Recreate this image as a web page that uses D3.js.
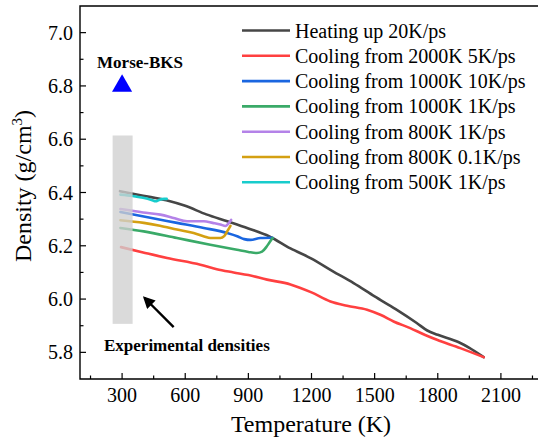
<!DOCTYPE html>
<html>
<head>
    <title>Density vs temperature</title>
    <style>
        body { margin: 0; background: #ffffff; }
        #chart { width: 538px; height: 440px; }
        text { font-family: "Liberation Serif", "Times New Roman", serif; fill: #000; }
    </style>
    <script src="https://d3js.org/d3.v7.min.js"></script>
</head>
<body>
    <div id="chart"></div>

    <script>
        // series names and colours, same order as the legend
        var seriesNames = [
            "Heating up 20K/ps",
            "Cooling from 2000K 5K/ps",
            "Cooling from 1000K 10K/ps",
            "Cooling from 1000K 1K/ps",
            "Cooling from 800K 1K/ps",
            "Cooling from 800K 0.1K/ps",
            "Cooling from 500K 1K/ps"
        ];
        var seriesColors = ["#464646", "#ff4040", "#1a66e0", "#3aaa68", "#b482e8", "#d4a012", "#18cccc"];

        // [temperature K, density g/cm3]
        var heating = [[290,6.405],[400,6.388],[510,6.371],[600,6.35],[700,6.318],[800,6.292],[900,6.265],[1000,6.235],
            [1100,6.19],[1200,6.152],[1300,6.105],[1400,6.06],[1500,6.01],[1600,5.962],[1700,5.91],[1750,5.882],
            [1800,5.866],[1900,5.838],[1950,5.817],[2018,5.782]];
        var cool2000 = [[295,6.195],[400,6.175],[514,6.154],[672,6.129],[750,6.112],[830,6.10],[900,6.09],[989,6.073],
            [1100,6.055],[1200,6.025],[1290,5.991],[1369,5.975],[1464,5.96],[1530,5.94],[1590,5.916],[1669,5.891],
            [1740,5.865],[1796,5.847],[1907,5.816],[1960,5.80],[2018,5.782]];
        var cool1000fast = [[292,6.327],[434,6.305],[561,6.286],[688,6.267],[799,6.248],[850,6.235],[880,6.225],
            [910,6.222],[957,6.229],[1015,6.23]];
        var cool1000slow = [[292,6.267],[403,6.254],[561,6.229],[719,6.204],[846,6.185],[900,6.177],[941,6.173],
            [965,6.178],[985,6.195],[1000,6.212],[1015,6.229]];
        var cool800fast = [[292,6.338],[400,6.325],[482,6.317],[550,6.303],[609,6.292],[688,6.292],[730,6.286],
            [767,6.28],[791,6.274],[805,6.283],[818,6.297]];
        var cool800slow = [[292,6.296],[403,6.286],[480,6.275],[561,6.261],[640,6.248],[690,6.235],[719,6.229],
            [767,6.229],[785,6.236],[800,6.255],[815,6.275]];
        var cool500 = [[292,6.392],[350,6.387],[400,6.38],[440,6.372],[460,6.367],[475,6.372],[500,6.376],[512,6.376]];

        var allSeries = [heating, cool2000, cool1000fast, cool1000slow, cool800fast, cool800slow, cool500];

        var xMajorTicks = [300, 600, 900, 1200, 1500, 1800, 2100];
        var xMinorTicks = [150, 450, 750, 1050, 1350, 1650, 1950, 2250];
        var yMajorTicks = [5.8, 6.0, 6.2, 6.4, 6.6, 6.8, 7.0];
        var yMinorTicks = [5.9, 6.1, 6.3, 6.5, 6.7, 6.9];

        // Morse-BKS point and experimental density band
        var morsePoint = [300, 6.8];
        var expBand = {x0: 255, x1: 350, y0: 5.907, y1: 6.614};
        var arrowFrom = [545, 5.895];
        var arrowTo = [407, 6.004];

        var width = 538, height = 440;
        var plotLeft = 80, plotTop = 6, plotBottom = 379;

        var x = d3.scaleLinear().domain([100, 2300]).range([plotLeft, 543]);
        var y = d3.scaleLinear().domain([5.7, 7.1]).range([plotBottom, plotTop]);

        var svg = d3.select("#chart").append("svg")
            .attr("width", width)
            .attr("height", height);

        svg.append("defs").append("marker")
            .attr("id", "head")
            .attr("viewBox", "0 0 10 10")
            .attr("refX", 8)
            .attr("refY", 5)
            .attr("markerWidth", 5)
            .attr("markerHeight", 5)
            .attr("markerUnits", "strokeWidth")
            .attr("orient", "auto")
            .append("path")
            .attr("d", "M0,0 L10,5 L0,10 z")
            .attr("fill", "#000");

        var line = d3.line()
            .x(function(d) { return x(d[0]); })
            .y(function(d) { return y(d[1]); })
            .curve(d3.curveMonotoneX);

        svg.selectAll(".series")
            .data(allSeries)
            .enter().append("path")
            .attr("class", "series")
            .attr("d", line)
            .attr("fill", "none")
            .attr("stroke", function(d, i) { return seriesColors[i]; })
            .attr("stroke-width", 2.6)
            .attr("stroke-linejoin", "round")
            .attr("stroke-linecap", "round");

        // grey band sits on top of the curve starts
        svg.append("rect")
            .attr("x", x(expBand.x0))
            .attr("width", x(expBand.x1) - x(expBand.x0))
            .attr("y", y(expBand.y1))
            .attr("height", y(expBand.y0) - y(expBand.y1))
            .attr("fill", "#cfcfcf")
            .attr("opacity", 0.78);

        svg.append("path")
            .attr("d", d3.symbol().type(d3.symbolTriangle).size(175)())
            .attr("transform", "translate(" + x(morsePoint[0]) + "," + y(morsePoint[1]) + ")")
            .attr("fill", "#0000ff");

        svg.append("text")
            .attr("x", x(morsePoint[0]) - 25)
            .attr("y", y(morsePoint[1]) - 18)
            .style("font-size", "17px")
            .style("font-weight", "bold")
            .text("Morse-BKS");

        svg.append("line")
            .attr("x1", x(arrowFrom[0]))
            .attr("y1", y(arrowFrom[1]))
            .attr("x2", x(arrowTo[0]))
            .attr("y2", y(arrowTo[1]))
            .attr("stroke", "#000")
            .attr("stroke-width", 2.4)
            .attr("marker-end", "url(#head)");

        svg.append("text")
            .attr("x", 104)
            .attr("y", 351)
            .style("font-size", "17px")
            .style("font-weight", "bold")
            .text("Experimental densities");

        // frame: left, bottom, top (right edge falls outside the window)
        svg.append("path")
            .attr("d", "M" + width + "," + plotTop + "H" + plotLeft + "V" + plotBottom + "H" + width)
            .attr("fill", "none")
            .attr("stroke", "#000")
            .attr("stroke-width", 1.4);

        svg.selectAll(".xmaj")
            .data(xMajorTicks)
            .enter().append("line")
            .attr("x1", function(d) { return x(d); })
            .attr("x2", function(d) { return x(d); })
            .attr("y1", plotBottom)
            .attr("y2", plotBottom - 6)
            .attr("stroke", "#000")
            .attr("stroke-width", 1.2);

        svg.selectAll(".xmin")
            .data(xMinorTicks)
            .enter().append("line")
            .attr("x1", function(d) { return x(d); })
            .attr("x2", function(d) { return x(d); })
            .attr("y1", plotBottom)
            .attr("y2", plotBottom - 3.5)
            .attr("stroke", "#000")
            .attr("stroke-width", 1.2);

        svg.selectAll(".ymaj")
            .data(yMajorTicks)
            .enter().append("line")
            .attr("x1", plotLeft)
            .attr("x2", plotLeft + 6)
            .attr("y1", function(d) { return y(d); })
            .attr("y2", function(d) { return y(d); })
            .attr("stroke", "#000")
            .attr("stroke-width", 1.2);

        svg.selectAll(".ymin")
            .data(yMinorTicks)
            .enter().append("line")
            .attr("x1", plotLeft)
            .attr("x2", plotLeft + 3.5)
            .attr("y1", function(d) { return y(d); })
            .attr("y2", function(d) { return y(d); })
            .attr("stroke", "#000")
            .attr("stroke-width", 1.2);

        svg.selectAll(".xlab")
            .data(xMajorTicks)
            .enter().append("text")
            .attr("x", function(d) { return x(d); })
            .attr("y", plotBottom + 23)
            .attr("text-anchor", "middle")
            .style("font-size", "20px")
            .text(function(d) { return d; });

        svg.selectAll(".ylab")
            .data(yMajorTicks)
            .enter().append("text")
            .attr("x", plotLeft - 7)
            .attr("y", function(d) { return y(d) + 7; })
            .attr("text-anchor", "end")
            .style("font-size", "20px")
            .text(function(d) { return d.toFixed(1); });

        svg.append("text")
            .attr("x", 311)
            .attr("y", 432)
            .attr("text-anchor", "middle")
            .style("font-size", "24px")
            .text("Temperature (K)");

        var yTitle = svg.append("text")
            .attr("transform", "translate(31,186) rotate(-90)")
            .attr("text-anchor", "middle")
            .style("font-size", "24px");
        yTitle.append("tspan").text("Density (g/cm");
        yTitle.append("tspan").attr("dy", -9).style("font-size", "15px").text("3");
        yTitle.append("tspan").attr("dy", 9).text(")");

        // legend
        var legend = svg.selectAll(".legend")
            .data(seriesNames)
            .enter().append("g")
            .attr("transform", function(d, i) { return "translate(242," + (30.5 + i * 25.3) + ")"; });

        legend.append("line")
            .attr("x1", 0)
            .attr("x2", 48)
            .attr("stroke", function(d, i) { return seriesColors[i]; })
            .attr("stroke-width", 2.6);

        legend.append("text")
            .attr("x", 53)
            .attr("y", 7)
            .style("font-size", "20px")
            .text(function(d) { return d; });
    </script>
</body>
</html>
